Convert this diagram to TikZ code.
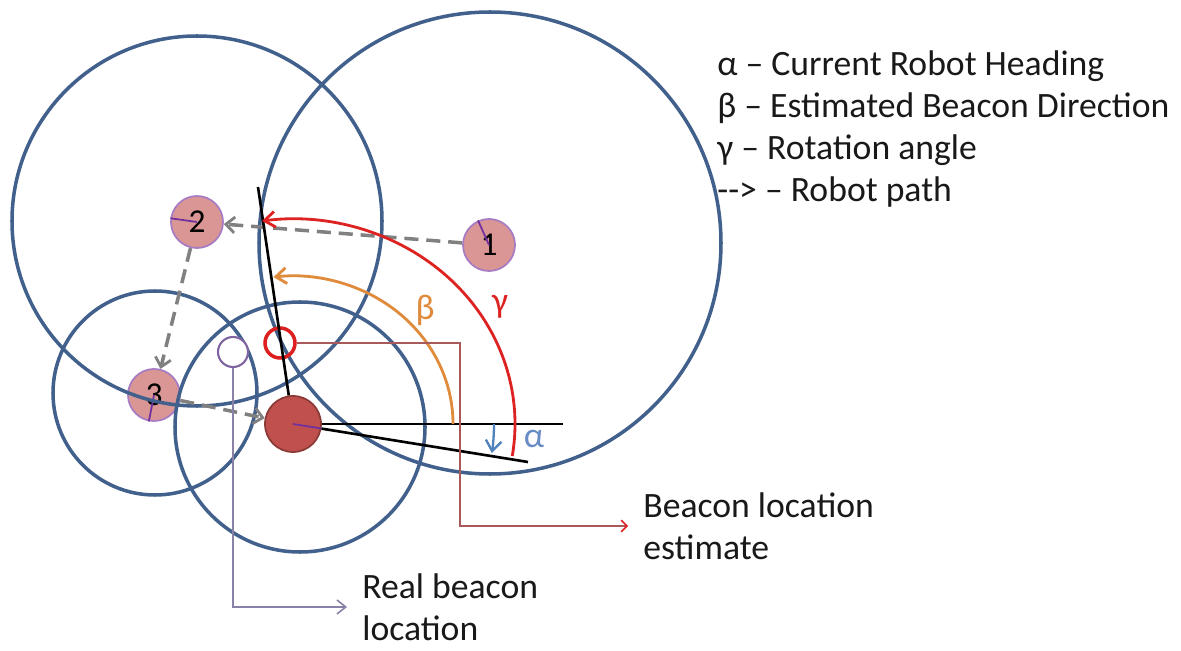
\documentclass[tikz,border=0pt]{standalone}
\usepackage{fontspec}
\setmainfont{Carlito}
\usepackage{tikz}
\usetikzlibrary{arrows.meta,positioning,calc}
\definecolor{ringblue}{HTML}{41608C}
\definecolor{posfill}{HTML}{D99694}
\definecolor{posrim}{HTML}{A87CC2}
\definecolor{robfill}{HTML}{C0504D}
\definecolor{robrim}{HTML}{8C3B38}
\definecolor{tickpurple}{HTML}{7030A0}
\definecolor{arcred}{HTML}{DD2222}
\definecolor{arcorange}{HTML}{E08A3C}
\definecolor{arcblue}{HTML}{4F81BD}
\definecolor{alphablue}{HTML}{6A8CC6}
\definecolor{estline}{HTML}{A85A5A}
\definecolor{estred}{HTML}{DD1F1F}
\definecolor{realline}{HTML}{8A82A6}
\definecolor{realrim}{HTML}{8064A2}

\begin{document}
\begin{tikzpicture}[x=0.02cm, y=0.02cm,
  every node/.style={font=\fontsize{20.3}{24}\selectfont},
  ring/.style={draw=ringblue, line width=2pt},
  oldpos/.style={circle, draw=posrim, fill=posfill, line width=1pt, minimum size=1.04cm, inner sep=0pt, font=\fontsize{19}{20}\selectfont},
  robot/.style={circle, draw=robrim, fill=robfill, line width=1pt, minimum size=1.12cm, inner sep=0pt},
  tick/.style={draw=tickpurple, line width=1pt},
  robpath/.style={draw=black!50, line width=2pt, dash pattern=on 8pt off 4.5pt, -{Straight Barb[length=5pt, width=9pt, line width=1.6pt]}},
  axisline/.style={draw=black, line width=1.5pt},
  anglearc/.style={line width=1.6pt, -{Straight Barb[length=6pt, width=9pt]}},
  marker/.style={circle, minimum size=0.6cm, inner sep=0pt},
  callout/.style={line width=0.9pt, -{Straight Barb[length=5pt, width=8pt]}},
  calltext/.style={align=left, inner xsep=0.3cm, anchor=west, text=black!90}]
  \fill[white] (0,0) rectangle (1181,650);
  \useasboundingbox (0,0) rectangle (1181,650);

  % earlier robot positions
  \node[oldpos] (r1) at (489,405) {1};
  \node[oldpos] (r2) at (197,428) {2};
  \node[oldpos] (r3) at (154,255) {3};
  \draw[tick] (r1.center) -- (r1.114);
  \draw[tick] (r2.center) -- (r2.172);
  \draw[tick] (r3.center) -- (r3.259);

  % range circles
  \draw[ring] (490,407) circle[radius=231];
  \draw[ring] (197,429) circle[radius=185];
  \draw[ring] (155,257) circle[radius=102];
  \draw[ring] (300,223) circle[radius=125];

  % robot path
  \node[robot] (rob) at (293,226) {};
  \draw[robpath] (r1) -- (r2);
  \draw[robpath] (r2) -- (r3);
  \draw[robpath] (r3) -- (rob);
  \draw[tick] (rob.center) -- (rob.-9);

  % beacons
  \node[marker, draw=estred, line width=2pt] (est) at (280,307) {};
  \node[marker, draw=realrim, fill=white, line width=1.2pt] (real) at (233,298) {};

  % heading lines
  \coordinate (hup) at (258,463);
  \coordinate (hx) at (563,226);
  \coordinate (hslope) at (528,188);
  \draw[axisline] (rob) -- (hup);
  \draw[axisline] (rob.east) -- (hx);
  \draw[axisline] (rob) -- (hslope);

  % angles
  \draw[anglearc, arcred] ([shift={(-9:222 and 205)}]rob.center) arc[start angle=-9, end angle=98, x radius=222, y radius=205];
  \draw[anglearc, arcorange] ([shift={(0:160 and 148)}]rob.center) arc[start angle=0, end angle=97, x radius=160, y radius=148];
  \draw[anglearc, arcblue, line width=1.3pt] ([shift={(0:201)}]rob.center) arc[start angle=0, end angle=-8.3, radius=201];
  \node[text=arcorange] (blbl) at (425,340) {β};
  \node[text=arcred] (glbl) at (500,343) {γ};
  \node[text=alphablue] (albl) at (534,211) {α};

  % legend
  \foreach \txt [count=\i] in {α – Current Robot Heading, β – Estimated Beacon Direction, γ – Rotation angle, {-}{-}> – Robot path}
    \node[anchor=base west, inner sep=0pt, text=black!90] (leg\i) at (717,616-42*\i) {\txt};

  % callouts
  \node[calltext] (estlbl) at (628,124) {Beacon location\\estimate};
  \node[calltext] (reallbl) at (347,43) {Real beacon\\location};
  \coordinate (estbend) at (460,0);
  \draw[callout, estline, arrows={-Straight Barb[color=estred]}] (est) -- (est -| estbend) -- (estbend |- estlbl.west) -- (estlbl.west);
  \draw[callout, realline] (real) -- (real |- reallbl.west) -- (reallbl.west);
\end{tikzpicture}
\end{document}
